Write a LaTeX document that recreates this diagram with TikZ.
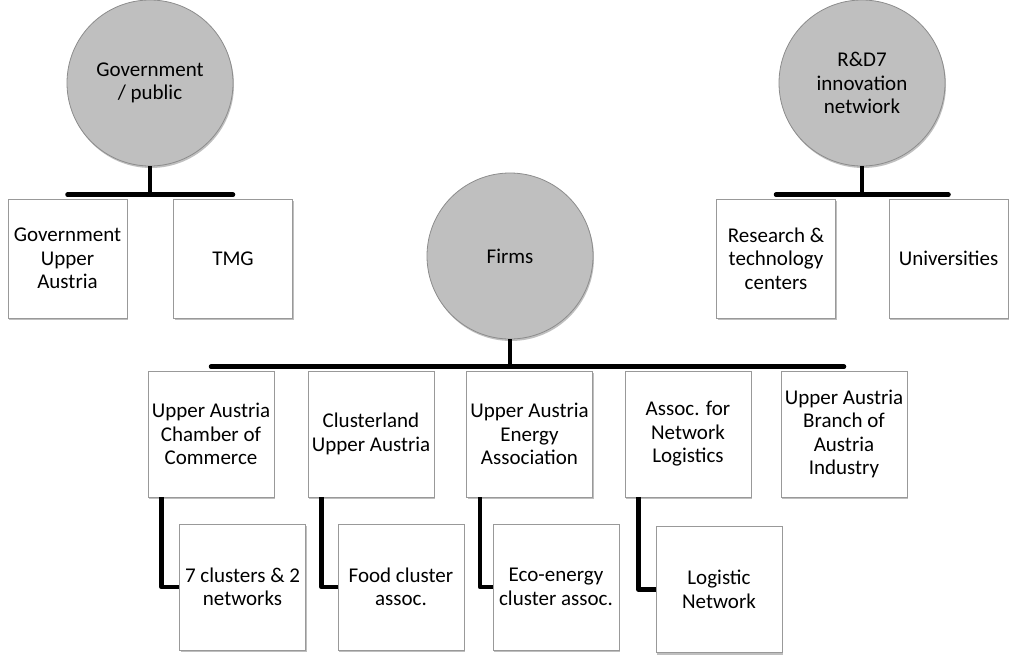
\documentclass[tikz,border=0pt]{standalone}
\usepackage{fontspec}
\setmainfont{Carlito}
\usetikzlibrary{shadows}
\begin{document}
\begin{tikzpicture}[x=1pt,y=-1pt,
  every node/.style={font=\fontsize{21}{23.5}\selectfont, align=center, inner sep=0pt},
  circ/.style={circle, draw=black!45, line width=0.8pt, fill=black!25, minimum size=166pt,
    drop shadow={shadow xshift=1pt, shadow yshift=-2pt, fill=black!50, opacity=0.5}},
  sbox/.style={rectangle, draw=black!40, line width=0.8pt, fill=white, minimum width=119pt, minimum height=119pt,
    drop shadow={shadow xshift=1pt, shadow yshift=-2pt, fill=black!50, opacity=0.5}},
  bbox/.style={sbox, minimum width=126pt, minimum height=126pt},
  conn/.style={line width=4.5pt, black, line cap=round, line join=round}]
\useasboundingbox (0,0) rectangle (1010,654);
% circles
\node[circ] (gov) at (150,83) {Government\\/ public};
\node[circ] (rd) at (862,83) {R\&D7\\innovation\\netwiork};
\node[circ] (firms) at (510,256) {Firms};
% top boxes
\node[sbox] (gu) at (67.5,258.5) {Government\\Upper\\Austria};
\node[sbox] (tmg) at (233,258.5) {TMG};
\node[sbox] (res) at (776,258.5) {Research \&\\technology\\centers};
\node[sbox] (uni) at (948.5,258.5) {Universities};
% row boxes
\node[bbox] (b1) at (211,434) {Upper Austria\\Chamber of\\Commerce};
\node[bbox] (b2) at (371,434) {Clusterland\\Upper Austria};
\node[bbox] (b3) at (529.5,434) {Upper Austria\\Energy\\Association};
\node[bbox] (b4) at (688,434) {Assoc. for\\Network\\Logistics};
\node[bbox] (b5) at (844,434) {Upper Austria\\Branch of\\Austria\\Industry};
% sub boxes
\node[bbox] (s1) at (242.5,587) {7 clusters \& 2\\networks};
\node[bbox] (s2) at (401,587) {Food cluster\\assoc.};
\node[bbox] (s3) at (556,587) {Eco-energy\\cluster assoc.};
\node[bbox] (s4) at (719,589.5) {Logistic\\Network};
% connectors
\coordinate (gb) at ([yshift=4pt]gu.north);
\coordinate (rb) at ([yshift=4pt]res.north);
\coordinate (fb) at ([yshift=4pt]b1.north);
\draw[conn, line cap=butt] (gov.south) -- (gov.south |- gb);
\draw[conn] (gb) -- ([yshift=4pt]tmg.north);
\draw[conn, line cap=butt] (rd.south) -- (rd.south |- rb);
\draw[conn] (rb) -- ([yshift=4pt]uni.north);
\draw[conn, line cap=butt] (firms.south) -- (firms.south |- fb);
\draw[conn] (fb) -- ([yshift=4pt]b5.north);
\draw[conn, line cap=butt] ([xshift=14pt]b1.south west) |- (s1.west);
\draw[conn, line cap=butt] ([xshift=14pt]b2.south west) |- (s2.west);
\draw[conn, line cap=butt] ([xshift=14pt]b3.south west) |- (s3.west);
\draw[conn, line cap=butt] ([xshift=14pt]b4.south west) |- (s4.west);
\end{tikzpicture}
\end{document}
